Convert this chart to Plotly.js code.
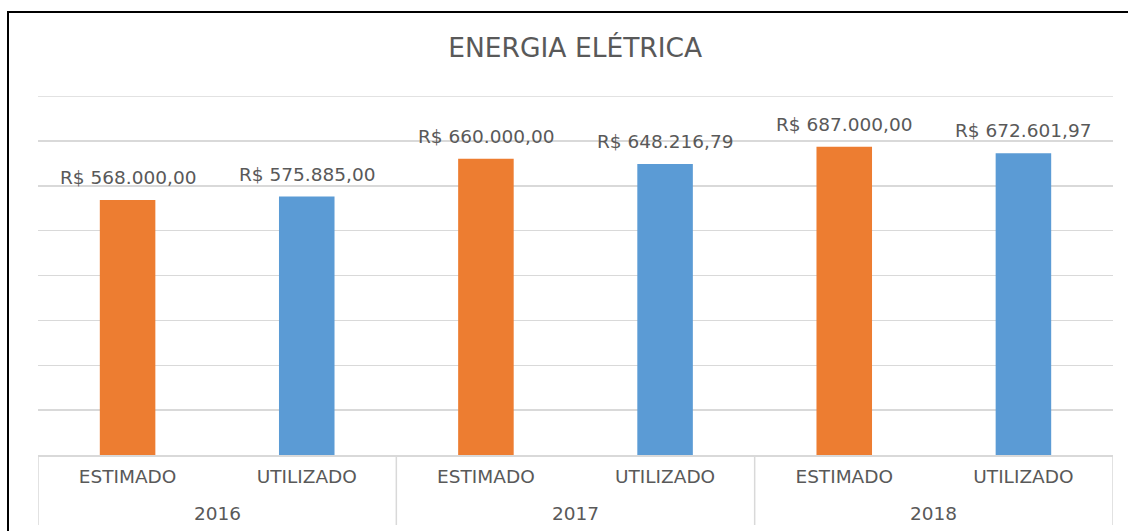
<!DOCTYPE html>
<html>
<head>
<meta charset="utf-8">
<script src="https://cdn.plot.ly/plotly-3.0.1.min.js"></script>
<style>
  html, body { margin: 0; padding: 0; background: #fff; overflow: hidden; }
  #chart { width: 1128px; height: 531px; position: absolute; left: 0; top: 0; }
  #frame { position: absolute; left: 7px; top: 11px; width: 1200px; height: 600px;
           border-top: 2px solid #000; border-left: 2px solid #000; pointer-events: none; }
</style>
</head>
<body>
<div id="chart"></div>
<div id="frame"></div>
<script>
const years = ["2016", "2017", "2018"];
const seriesNames = ["ESTIMADO", "UTILIZADO"];
const estimado = [568000.00, 660000.00, 687000.00];
const utilizado = [575885.00, 648216.79, 672601.97];
const colors = ["#ED7D31", "#5B9BD5"];
const yMax = 800000;
const yStep = 100000;

const FONT = "DejaVu Sans";
const GREY = "#595959";
const GRID = "#d9d9d9";

function brl(v) {
  const parts = v.toFixed(2).split(".");
  const intPart = parts[0].replace(/\B(?=(\d{3})+(?!\d))/g, ".");
  return "R$ " + intPart + "," + parts[1];
}

const nS = seriesNames.length;
const seriesValues = [estimado, utilizado];
const pos = (yi, si) => yi * nS + si;

const traces = seriesNames.map((name, si) => ({
  type: "bar",
  name: name,
  x: years.map((_, yi) => pos(yi, si)),
  y: seriesValues[si],
  width: 0.31,
  marker: { color: colors[si] },
  hoverinfo: "skip"
}));

const annotations = [];
seriesNames.forEach((name, si) => {
  years.forEach((yr, yi) => {
    annotations.push({
      x: pos(yi, si), y: seriesValues[si][yi], xref: "x", yref: "y",
      text: brl(seriesValues[si][yi]), showarrow: false,
      xanchor: "center", yanchor: "bottom", yshift: 10,
      font: { family: FONT, size: 18.5, color: GREY }
    });
  });
});
years.forEach((yr, yi) => {
  annotations.push({
    x: pos(yi, 0) + (nS - 1) / 2, y: -58 / 359, xref: "x", yref: "paper",
    text: yr, showarrow: false, xanchor: "center", yanchor: "middle",
    font: { family: FONT, size: 18.5, color: GREY }
  });
});

const shapes = [{
  type: "line", xref: "paper", yref: "y",
  x0: 0, x1: 1, y0: yMax, y1: yMax,
  line: { color: GRID, width: 1.5 }, layer: "below"
}];
for (let yi = 0; yi <= years.length; yi++) {
  const xd = yi * nS - 0.5;
  shapes.push({
    type: "line", xref: "x", yref: "paper",
    x0: xd, x1: xd, y0: 0, y1: -70 / 359,
    line: { color: GRID, width: 1.5 }
  });
}

const tickvals = [], ticktext = [];
years.forEach((yr, yi) => seriesNames.forEach((n, si) => { tickvals.push(pos(yi, si)); ticktext.push(n); }));

const layout = {
  width: 1128,
  height: 531,
  margin: { l: 38, r: 15, t: 96, b: 76 },
  paper_bgcolor: "#ffffff",
  plot_bgcolor: "#ffffff",
  barmode: "overlay",
  showlegend: false,
  font: { family: FONT, color: GREY, size: 18.5 },
  title: {
    text: "ENERGIA ELÉTRICA",
    font: { family: FONT, size: 26.5, color: GREY },
    x: 0.51, xanchor: "center",
    y: 1 - 48 / 531, yanchor: "middle"
  },
  xaxis: {
    range: [-0.5, years.length * nS - 0.5],
    tickmode: "array",
    tickvals: tickvals,
    ticktext: ticktext,
    showline: true,
    linecolor: GRID,
    linewidth: 1.5,
    ticklabelstandoff: 4,
    tickfont: { family: FONT, size: 18.5, color: GREY },
    ticks: "",
    showgrid: false,
    zeroline: false
  },
  yaxis: {
    range: [0, yMax],
    dtick: yStep,
    showticklabels: false,
    showgrid: true,
    gridcolor: GRID,
    gridwidth: 1.5,
    zeroline: false,
    showline: false,
    ticks: ""
  },
  annotations: annotations,
  shapes: shapes
};

Plotly.newPlot("chart", traces, layout, { displayModeBar: false, staticPlot: true });
</script>
</body>
</html>
